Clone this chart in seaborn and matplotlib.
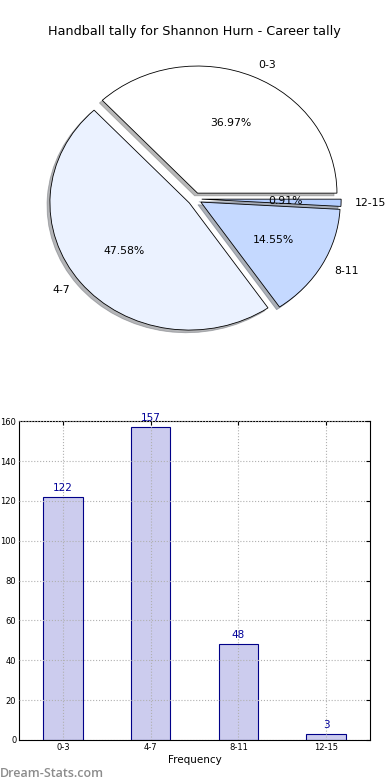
import matplotlib
matplotlib.use("Agg")
import matplotlib.pyplot as plt
import seaborn as sns
import pandas as pd

# Data
categories = ["0-3", "4-7", "8-11", "12-15"]
counts = [122, 157, 48, 3]
slice_colors = ["#ffffff", "#ebf2ff", "#c5d9ff", "#b3cdff"]
title = "Handball tally for Shannon Hurn - Career tally"

df = pd.DataFrame({"range": categories, "count": counts})

sns.set_style("white")
plt.rcParams["font.family"] = ["DejaVu Sans"]
plt.rcParams["text.color"] = "black"
plt.rcParams["xtick.color"] = "black"
plt.rcParams["ytick.color"] = "black"
plt.rcParams["axes.labelcolor"] = "black"

fig = plt.figure(figsize=(3.9, 7.8), dpi=100)

# Pie
ax_pie = fig.add_axes([0.0526, 0.5412, 0.8936, 0.4074])
ax_pie.pie(
    df["count"],
    labels=df["range"],
    colors=slice_colors,
    explode=[0.05] * len(categories),
    autopct="%1.2f%%",
    shadow={"ox": -0.015, "oy": -0.015, "shade": 0.55},
    wedgeprops=dict(edgecolor="black", linewidth=0.6),
    textprops=dict(fontsize=7.8),
)
ax_pie.set_aspect("auto")
ax_pie.set_xlim(-1.25, 1.25)
ax_pie.set_ylim(-1.25, 1.25)
ax_pie.set_title(title, fontsize=9.2, pad=4)

# Bars
ax_bar = fig.add_axes([0.049, 0.0513, 0.9, 0.4087])
sns.barplot(
    data=df,
    x="range",
    y="count",
    color="#ccccee",
    saturation=1,
    edgecolor="#000088",
    linewidth=0.8,
    width=0.45,
    ax=ax_bar,
)
ax_bar.set_xlim(-0.5, 3.5)
ax_bar.set_ylim(0, 160)
ax_bar.set_yticks(range(0, 161, 20))
ax_bar.grid(True, linestyle=":", color="#b0b0b0", linewidth=0.8)
ax_bar.set_axisbelow(False)
ax_bar.tick_params(direction="in", labelsize=6, length=3, right=True, top=True, pad=2)
ax_bar.set_xlabel("Frequency", fontsize=7.5, labelpad=2)
ax_bar.set_ylabel("")
for sp in ax_bar.spines.values():
    sp.set_color("black")
    sp.set_linewidth(0.8)

for i, v in enumerate(counts):
    ax_bar.text(i, v + 2, str(v), ha="center", va="bottom", fontsize=7.5, color="#000099")

fig.text(0.0, 0.004, "Dream-Stats.com", fontsize=9, color="#8c8c8c",
         family="Open Sans", fontweight="semibold")

fig.savefig("out.png", dpi=100)
